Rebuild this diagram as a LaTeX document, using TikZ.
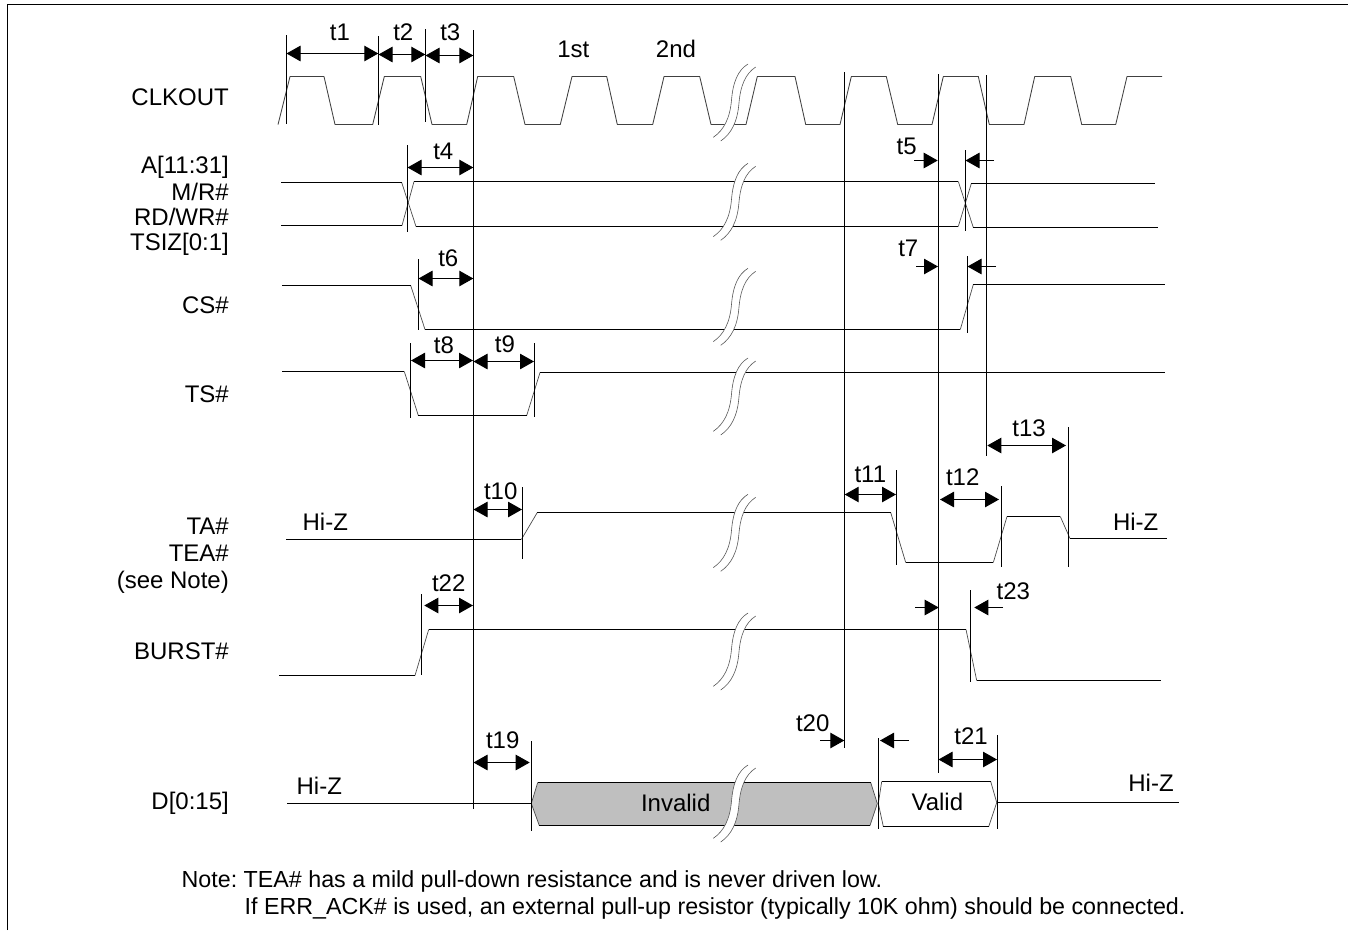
\documentclass[tikz,border=0pt]{standalone}
\usepackage{fontspec}
\setmainfont{Liberation Sans}
\usetikzlibrary{arrows.meta}
\frenchspacing
\tikzset{
  wave/.style={line width=1pt,black},
  slope/.style={line width=0.7pt,black!70,line join=bevel},
  clk/.style={line width=0.85pt,black!75,line join=bevel},
  guide/.style={line width=1pt,black},
  dim/.style={line width=1pt,black,{Triangle[length=14pt,width=15.5pt]}-{Triangle[length=14pt,width=15.5pt]}},
  tipr/.style={line width=1pt,black,-{Triangle[length=14pt,width=15.5pt]}},
  lab/.style={inner sep=0pt,font=\fontsize{24}{28}\selectfont},
  rlab/.style={lab,anchor=base east},
  clab/.style={lab,anchor=base},
  llab/.style={inner sep=0pt,anchor=base west,font=\fontsize{23.25}{28}\selectfont}
}
\newcommand{\brk}[1]{%
  \begin{scope}[shift={(0,#1)}]
   \fill[white] (713.3,73.3) .. controls (724,66) and (730,54) .. (731.5,36) .. controls (733,18) and (738,6) .. (748,0)
     -- (755.7,3) .. controls (745.4,9.7) and (740.4,21.7) .. (738.9,39.7) .. controls (737.4,57.7) and (731.4,69.7) .. (720.7,77) -- cycle;
   \draw[line width=0.6pt,black!65] (713.3,73.3) .. controls (724,66) and (730,54) .. (731.5,36) .. controls (733,18) and (738,6) .. (748,0);
   \draw[line width=0.6pt,black!65] (720.7,77) .. controls (731.4,69.7) and (737.4,57.7) .. (738.9,39.7) .. controls (740.4,21.7) and (745.4,9.7) .. (755.7,3);
  \end{scope}}
\begin{document}
\begin{tikzpicture}[x=1pt,y=-1pt]
\useasboundingbox (0,0) rectangle (1348,930);
\fill[white] (0,0) rectangle (1348,930);
% frame
\draw[line width=1.3pt] (7.5,930) -- (7.5,4.5) -- (1348,4.5);
% clock
\draw[clk] (278,124.5) -- (290,76.5) -- (324,76.5) -- (335,124.5) -- (372.7,124.5) -- (384.3,76.5) -- (420.7,76.5) -- (432,124.5) -- (466.7,124.5) -- (477.7,76.5) -- (513.7,76.5) -- (525,124.5) -- (560.3,124.5) -- (572,76.5) -- (606.7,76.5) -- (617.3,124.5) -- (652.7,124.5) -- (664,76.5) -- (699.7,76.5) -- (711,124.5) -- (746,124.5) -- (757.3,76.5) -- (795,76.5) -- (805.7,124.5) -- (840,124.5) -- (851.3,76.5) -- (886.3,76.5) -- (897.7,124.5) -- (932,124.5) -- (943.3,76.5) -- (978.3,76.5) -- (989.3,124.5) -- (1024,124.5) -- (1034.7,76.5) -- (1070.7,76.5) -- (1081.7,124.5) -- (1115.7,124.5) -- (1127,76.5) -- (1162,76.5);
% signals: thin edges
\draw[slope] (401.7,182.5) -- (416,226.5) (958.3,226.5) -- (971.3,183.5);
\draw[slope] (402,225.5) -- (414,181.5) (958.3,181.5) -- (973.3,227.5);
\draw[slope] (410.7,285.5) -- (425,329.5) (960.3,329.5) -- (973.3,284.5);
\draw[slope] (404.3,371.5) -- (418.3,415.5) (526.7,415.5) -- (540,372.5);
\draw[slope] (521.3,539.5) -- (537.3,512.5) (890.7,512.5) -- (905.7,562.5) (993.3,562.5) -- (1007,516.5) (1060.3,516.5) -- (1070,538.5);
\draw[slope] (415,675.5) -- (428.7,629.5) (966,629.5) -- (976.7,680.5);
% signals: levels
\draw[wave] (281,182.5) -- (401.7,182.5) (416,226.5) -- (958.3,226.5) (971.3,183.5) -- (1155,183.5);
\draw[wave] (281,225.5) -- (402,225.5) (414,181.5) -- (958.3,181.5) (973.3,227.5) -- (1157.7,227.5);
\draw[wave] (282,285.5) -- (410.7,285.5) (425,329.5) -- (960.3,329.5) (973.3,284.5) -- (1165,284.5);
\draw[wave] (282,371.5) -- (404.3,371.5) (418.3,415.5) -- (526.7,415.5) (540,372.5) -- (1165,372.5);
\draw[wave] (286,539.5) -- (521.3,539.5) (537.3,512.5) -- (890.7,512.5) (905.7,562.5) -- (993.3,562.5) (1007,516.5) -- (1060.3,516.5) (1070,538.5) -- (1167,538.5);
\draw[wave] (279,675.5) -- (415,675.5) (428.7,629.5) -- (966,629.5) (976.7,680.5) -- (1161,680.5);
\draw[wave] (287,803.5) -- (531.3,803.5);
\fill[black!25] (531.3,803.5) -- (537.7,782.5) -- (870.7,782.5) -- (877.3,803.5) -- (870,825.5) -- (539.3,825.5) -- cycle;
\draw[slope] (539.3,825.5) -- (531.3,803.5) -- (537.7,782.5) (870.7,782.5) -- (877.3,803.5) -- (870,825.5);
\draw[wave] (537.7,782.5) -- (870.7,782.5) (870,825.5) -- (539.3,825.5);
\draw[slope] (883.3,826.5) -- (878.3,803.5) -- (881.7,781.5) (990.7,781.5) -- (996.7,802.5) -- (988.7,826.5);
\draw[wave] (881.7,781.5) -- (990.7,781.5) (988.7,826.5) -- (883.3,826.5);
\draw[wave] (997,802.5) -- (1179,802.5);
% breaks
\brk{64}\brk{163.3}\brk{268.3}\brk{358}\brk{494.3}\brk{613}\brk{765}
% guides
\draw[guide] (286.5,35) -- (286.5,124);
\draw[guide] (378.5,36) -- (378.5,125);
\draw[guide] (425.5,29) -- (425.5,122);
\draw[guide] (473.5,30) -- (473.5,809);
\draw[guide] (407.5,145) -- (407.5,231.7);
\draw[guide] (418.5,259) -- (418.5,330);
\draw[guide] (844.5,72) -- (844.5,747.7);
\draw[guide] (938.5,74) -- (938.5,772.7);
\draw[guide] (986.5,75) -- (986.5,455.7);
\draw[guide] (965.5,150) -- (965.5,230.7);
\draw[guide] (967.5,256) -- (967.5,333);
\draw[guide] (410.5,343) -- (410.5,418);
\draw[guide] (534.5,343) -- (534.5,417);
\draw[guide] (522.5,487) -- (522.5,558.7);
\draw[guide] (421.5,594) -- (421.5,674.7);
\draw[guide] (896.5,470) -- (896.5,564.7);
\draw[guide] (1001.5,486) -- (1001.5,566.7);
\draw[guide] (1068.5,427) -- (1068.5,566.7);
\draw[guide] (970.5,590) -- (970.5,681.7);
\draw[guide] (531.5,741) -- (531.5,830.7);
\draw[guide] (878.5,738) -- (878.5,829.3);
\draw[guide] (997.5,735) -- (997.5,829.3);
% dimensions
\draw[dim] (286.5,53.5) -- (378.3,53.5);
\draw[dim] (378.5,54.5) -- (425.3,54.5);
\draw[dim] (425.5,55.5) -- (473.3,55.5);
\draw[dim] (407.5,167.5) -- (473.3,167.5);
\draw[dim] (418.5,278.5) -- (473.3,278.5);
\draw[dim] (411,360.5) -- (473,360.5);
\draw[dim] (473.5,361.5) -- (534,361.5);
\draw[dim] (473.5,509.5) -- (522,509.5);
\draw[dim] (424.3,605.5) -- (473,605.5);
\draw[dim] (844.7,494.5) -- (896,494.5);
\draw[dim] (940,499.5) -- (999,499.5);
\draw[dim] (987.3,445.5) -- (1066,445.5);
\draw[dim] (473.5,762.5) -- (529.7,762.5);
\draw[dim] (938.5,759.5) -- (997,759.5);
\draw[tipr] (914,160.5) -- (937.7,160.5);
\draw[tipr] (994,160.5) -- (965.5,160.5);
\draw[tipr] (916,266.5) -- (938,266.5);
\draw[tipr] (996,266.5) -- (967.5,266.5);
\draw[tipr] (915,607.5) -- (938.7,607.5);
\draw[tipr] (1003,607.5) -- (974.3,607.5);
\draw[tipr] (820,740.5) -- (844.3,740.5);
\draw[tipr] (909,740.5) -- (880,740.5);
% timing labels
\node[clab] (t1) at (340,40.7) {t1};
\node[clab] (t2) at (403.3,40.7) {t2};
\node[clab] (t3) at (450.3,40) {t3};
\node[clab] (t4) at (443.3,159) {t4};
\node[clab] (t6) at (448.3,266.7) {t6};
\node[clab] (t8) at (444,353.3) {t8};
\node[clab] (t9) at (505,352.7) {t9};
\node[clab] (t10) at (500.7,499) {t10};
\node[clab] (t22) at (448.7,591.3) {t22};
\node[clab] (t11) at (870.3,482.7) {t11};
\node[clab] (t12) at (962.7,485.7) {t12};
\node[clab] (t13) at (1029,436.3) {t13};
\node[clab] (t19) at (502.7,748) {t19};
\node[clab] (t20) at (812.7,731) {t20};
\node[clab] (t21) at (971,744) {t21};
\node[clab] (t5) at (906.7,154) {t5};
\node[clab] (t7) at (908.3,256.7) {t7};
\node[clab] (t23) at (1013.3,599.3) {t23};
\node[clab] (first) at (573.3,57.7) {1st};
\node[clab] (second) at (676,57.7) {2nd};
% signal labels
\node[rlab] (clkout) at (229,105.3) {CLKOUT};
\node[rlab] (a) at (229,173.7) {A[11:31]};
\node[rlab] (mr) at (229,200) {M/R\#};
\node[rlab] (rd) at (229,225) {RD/WR\#};
\node[rlab] (ts) at (229,250.7) {TSIZ[0:1]};
\node[rlab] (cs) at (229,313.3) {CS\#};
\node[rlab] (tsn) at (229,402.3) {TS\#};
\node[rlab] (ta) at (229,534.7) {TA\#};
\node[rlab] (tea) at (229,561.7) {TEA\#};
\node[rlab] (see) at (229,588.3) {(see Note)};
\node[rlab] (burst) at (229,659.3) {BURST\#};
\node[rlab] (d) at (229,809.3) {D[0:15]};
\node[clab] (hz1) at (325.3,530) {Hi-Z};
\node[clab] (hz2) at (1135.7,530.7) {Hi-Z};
\node[clab] (hz3) at (319.3,794.3) {Hi-Z};
\node[clab] (hz4) at (1151,791.7) {Hi-Z};
\node[clab] (inv) at (675.7,811.7) {Invalid};
\node[clab] (val) at (937.3,810.7) {Valid};
\node[llab] (n1) at (181.5,887.3) {Note: TEA\# has a mild pull-down resistance and is never driven low.};
\node[llab] (n2) at (244.5,914.3) {If ERR\_ACK\# is used, an external pull-up resistor (typically 10K ohm) should be connected.};
\end{tikzpicture}
\end{document}
